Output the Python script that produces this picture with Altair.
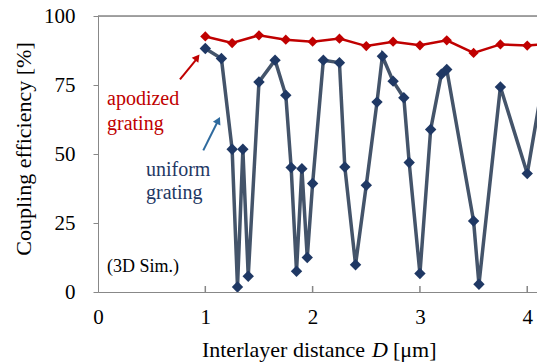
import altair as alt
import pandas as pd

# Interlayer distance D [um] and simulated coupling efficiency [%]
apod_x = [1.0, 1.25, 1.5, 1.75, 2.0, 2.25, 2.5, 2.75, 3.0, 3.25, 3.5, 3.75, 4.0, 4.25]
apod_y = [92.6, 90.2, 93.0, 91.4, 90.7, 91.8, 89.1, 90.7, 89.4, 91.2, 86.6, 89.7, 89.3, 90.0]

unif_x = [1.0, 1.15, 1.25, 1.3, 1.35, 1.4, 1.5, 1.65, 1.75, 1.8, 1.85, 1.9, 1.95, 2.0,
          2.1, 2.25, 2.3, 2.4, 2.5, 2.6, 2.65, 2.75, 2.85, 2.9, 3.0, 3.1, 3.2, 3.25,
          3.5, 3.55, 3.75, 4.0, 4.15]
unif_y = [88.2, 84.6, 51.7, 1.8, 51.7, 5.7, 76.1, 84.0, 71.3, 45.1, 7.5, 44.7, 12.5, 39.3,
          84.0, 83.1, 45.3, 9.9, 38.7, 68.8, 85.4, 76.4, 70.4, 46.9, 6.7, 58.9, 78.9, 80.6,
          25.7, 2.8, 74.3, 42.9, 77.0]

x_ticks = [0, 1, 2, 3, 4]
y_ticks = [0, 25, 50, 75, 100]

W, H = 439, 276
X_MAX = 4.091
FONT = "Times New Roman"
GRAY = "#868686"
RED = "#c00000"
NAVY = "#1f3864"
SLATE = "#44546a"

apod = pd.DataFrame({"D": apod_x, "eff": apod_y})
unif = pd.DataFrame({"D": unif_x, "eff": unif_y})

xs = alt.Scale(domain=[0, X_MAX], nice=False, zero=False)
ys = alt.Scale(domain=[0, 100], nice=False)

x_enc = alt.X("D:Q", scale=xs, axis=alt.Axis(values=x_ticks, format="d", ticks=False, tickSize=0,
                                             labelPadding=14, title=None, grid=False,
                                             labelFontSize=21, labelFont=FONT,
                                             labelColor="black", labelFlush=False))
y_enc = alt.Y("eff:Q", scale=ys, axis=alt.Axis(values=y_ticks, format="d", tickSize=5, labelPadding=18,
                                              title=None, grid=False, labelFontSize=21,
                                              labelFont=FONT, labelColor="black"))

# frame top edge
top = alt.Chart(pd.DataFrame({"a": [0]})).mark_rule(color=GRAY, strokeWidth=1.5).encode(
    x=alt.value(0), x2=alt.value(W), y=alt.value(0))

# inward ticks on the x axis
xt = alt.Chart(pd.DataFrame({"D": x_ticks[1:]})).mark_rule(color=GRAY, strokeWidth=1.5).encode(
    x=alt.X("D:Q", scale=xs), y=alt.value(H), y2=alt.value(H - 6))

unif_line = alt.Chart(unif).mark_line(color=SLATE, strokeWidth=3.5, clip=True).encode(x=x_enc, y=y_enc)
unif_pts = alt.Chart(unif).mark_point(shape="diamond", filled=True, color=NAVY, size=130,
                                      opacity=1, clip=True).encode(x="D:Q", y="eff:Q")
apod_line = alt.Chart(apod).mark_line(color=RED, strokeWidth=2.5, clip=True).encode(x="D:Q", y="eff:Q")
apod_pts = alt.Chart(apod).mark_point(shape="diamond", filled=True, color=RED, size=105,
                                      opacity=1, clip=True).encode(x="D:Q", y="eff:Q")

# annotation labels
ann = pd.DataFrame({
    "D": [0.084, 0.084, 0.447, 0.447, 0.084],
    "eff": [69.8, 60.8, 44.1, 35.8, 8.9],
    "txt": ["apodized", "grating", "uniform", "grating", "(3D Sim.)"],
    "col": [RED, RED, NAVY, NAVY, "black"],
    "fs": [20, 20, 20, 20, 18],
})
ann_text = alt.Chart(ann).mark_text(font=FONT, align="left", baseline="middle").encode(
    x="D:Q", y="eff:Q", text="txt:N",
    color=alt.Color("col:N", scale=None),
    size=alt.Size("fs:Q", scale=None))

# arrows pointing at each curve
arr = pd.DataFrame({
    "x0": [0.764, 0.981], "y0": [77.0, 51.3],
    "x1": [0.915, 1.113], "y1": [84.2, 61.6],
    "hx": [0.925, 1.121], "hy": [85.0, 62.2],
    "ang": [38, 27],
    "col": [RED, "#2e6a9e"],
})
arr_shaft = alt.Chart(arr).mark_rule(strokeWidth=2).encode(
    x="x0:Q", y="y0:Q", x2="x1:Q", y2="y1:Q", color=alt.Color("col:N", scale=None))
arr_head = alt.Chart(arr).mark_point(shape="triangle-up", filled=True, size=70, opacity=1).encode(
    x="hx:Q", y="hy:Q", angle=alt.Angle("ang:Q", scale=None), color=alt.Color("col:N", scale=None))

# axis titles
ytitle = alt.Chart(pd.DataFrame({"t": ["Coupling efficiency [%]"]})).mark_text(
    font=FONT, fontSize=22, angle=270, align="center", baseline="middle", color="black").encode(
    text="t:N", x=alt.value(-74), y=alt.value(133))
xt1 = alt.Chart(pd.DataFrame({"t": ["Interlayer distance"]})).mark_text(
    font=FONT, fontSize=22, align="right", baseline="middle", color="black").encode(
    text="t:N", x=alt.value(267), y=alt.value(334))
xt2 = alt.Chart(pd.DataFrame({"t": ["D"]})).mark_text(
    font=FONT, fontSize=22, fontStyle="italic", align="left", baseline="middle", color="black").encode(
    text="t:N", x=alt.value(274), y=alt.value(334))
xt3 = alt.Chart(pd.DataFrame({"t": ["[\u03bcm]"]})).mark_text(
    font=FONT, fontSize=22, align="left", baseline="middle", color="black").encode(
    text="t:N", x=alt.value(295), y=alt.value(334))

chart = alt.layer(
    unif_line, top, xt, unif_pts, apod_line, apod_pts,
    ann_text, arr_shaft, arr_head, ytitle, xt1, xt2, xt3
).properties(
    width=W, height=H,
    autosize=alt.AutoSizeParams(type="none"),
    padding={"left": 98, "top": 16, "right": 0, "bottom": 72},
    background="white",
).configure_view(stroke=None).configure_axis(
    domainColor=GRAY, domainWidth=1.5, tickColor=GRAY, tickWidth=1.5,
).configure(font=FONT)

chart.save("out.html", embed_options={"renderer": "svg", "actions": False})
